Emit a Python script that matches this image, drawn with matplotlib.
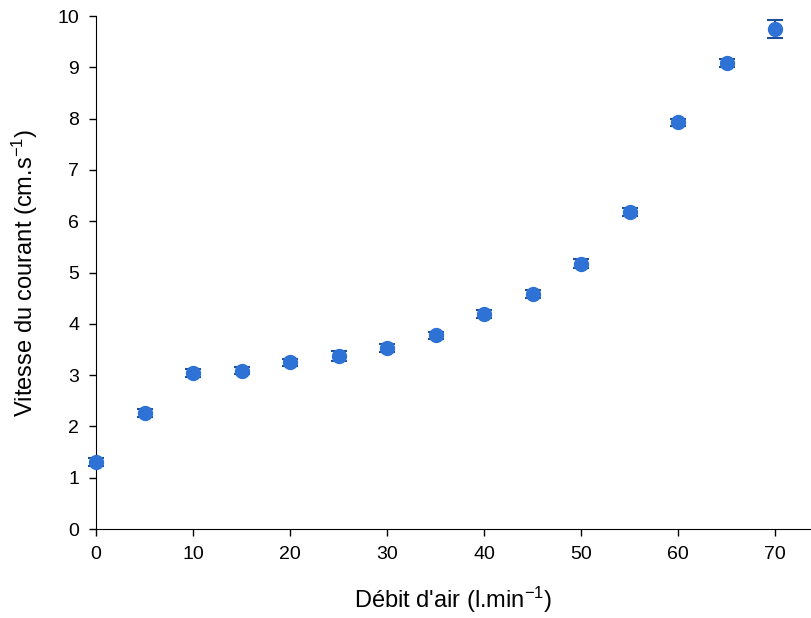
import numpy as np
import matplotlib
matplotlib.use('Agg')
import matplotlib.pyplot as plt

plt.rcParams['font.family'] = ['Liberation Sans', 'DejaVu Sans']
plt.rcParams['mathtext.fontset'] = 'custom'
plt.rcParams['mathtext.rm'] = 'Liberation Sans'
plt.rcParams['mathtext.it'] = 'Liberation Sans:italic'

# air flow (l/min) vs current speed (cm/s)
debit = [0, 5, 10, 15, 20, 25, 30, 35, 40, 45, 50, 55, 60, 65, 70]
vitesse = [1.31, 2.26, 3.04, 3.09, 3.25, 3.37, 3.53, 3.78, 4.19, 4.58, 5.17, 6.18, 7.93, 9.08, 9.75]
erreur = [0.08, 0.08, 0.07, 0.07, 0.07, 0.10, 0.08, 0.07, 0.08, 0.07, 0.09, 0.07, 0.07, 0.08, 0.17]

fig = plt.figure(figsize=(8.11, 6.18), dpi=100)
ax = fig.add_axes([0.1184, 0.144, 0.8816, 0.830])

ax.errorbar(debit, vitesse, yerr=erreur, fmt='o', color='#2f72d6', markersize=10,
            ecolor='#1f4f9a', elinewidth=1.5, capsize=6, capthick=1.5, clip_on=False, zorder=3)

ax.set_xlim(0, 73.7)
ax.set_ylim(0, 10)
ax.set_xticks(np.arange(0, 71, 10))
ax.set_yticks(np.arange(0, 11, 1))
ax.spines['top'].set_visible(False)
ax.spines['right'].set_visible(False)
ax.tick_params(direction='out', length=5, width=1, labelsize=14, pad=7)
ax.set_xlabel("Débit d'air (l.min$^{-1}$)", fontsize=17, labelpad=16)
ax.set_ylabel("Vitesse du courant (cm.s$^{-1}$)", fontsize=17, labelpad=13)

plt.savefig('out.png', dpi=100)
